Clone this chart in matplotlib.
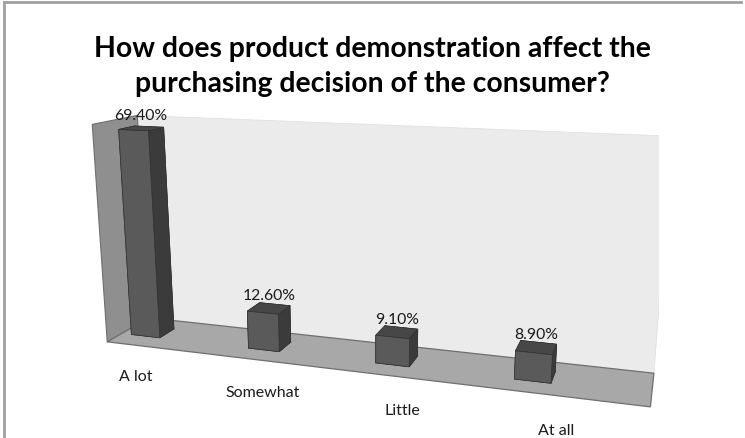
import matplotlib
matplotlib.use("Agg")
import matplotlib.pyplot as plt
import numpy as np
from mpl_toolkits.mplot3d.art3d import Poly3DCollection
from matplotlib.lines import Line2D

categories = ["A lot", "Somewhat", "Little", "At all"]
values = [69.4, 12.6, 9.1, 8.9]
value_labels = ["69.40%", "12.60%", "9.10%", "8.90%"]
title = "How does product demonstration affect the\npurchasing decision of the consumer?"

Z_MAX = 72.0
DEPTH = 1.0
BAR_W = 0.25
BAR_D = 0.36
BAR_OFFSET = 0.22   # bar centre within each category slot

fig = plt.figure(figsize=(7.45, 4.39), dpi=100)
fig.patch.set_facecolor("white")

ax = fig.add_axes([-0.1645, -0.2615, 1.295, 1.36], projection="3d")
ax.set_proj_type("persp", focal_length=0.3)
ax.view_init(elev=14, azim=-72)
ax.computed_zorder = False
ax.set_axis_off()
ax.set_xticks([]); ax.set_yticks([]); ax.set_zticks([])

n = len(categories)
ax.set_xlim(0, n)
ax.set_ylim(0, DEPTH)
ax.set_zlim(0, Z_MAX)
ax.set_box_aspect((3.9, 0.6, 1.62))

# back wall
back = [[(0, DEPTH, 0), (n, DEPTH, 0), (n, DEPTH, Z_MAX), (0, DEPTH, Z_MAX)]]
ax.add_collection3d(Poly3DCollection(back, facecolors="#ebebeb", edgecolors="#e0e0e0", linewidths=0.6))
# side wall
side = [[(0, 0, 0), (0, DEPTH, 0), (0, DEPTH, Z_MAX), (0, 0, Z_MAX)]]
ax.add_collection3d(Poly3DCollection(side, facecolors="#8f8f8f", edgecolors="#6f6f6f", linewidths=0.8))
# floor
floor = [[(0, 0, 0), (n, 0, 0), (n, DEPTH, 0), (0, DEPTH, 0)]]
ax.add_collection3d(Poly3DCollection(floor, facecolors="#a8a8a8", edgecolors="#6f6f6f", linewidths=0.9))

# bars: faces ordered bottom, top, front, back, left, right
face_cols = ["#3d3d3d", "#474747", "#5a5a5a", "#3d3d3d", "#5a5a5a", "#3b3b3b"]
centers = np.arange(n) + BAR_OFFSET
for i in range(n):
    ax.bar3d(centers[i] - BAR_W / 2, DEPTH / 2 - BAR_D / 2, 0, BAR_W, BAR_D, values[i],
             color=face_cols, shade=False, edgecolor="#333333", linewidth=0.5)

font = "Lato"
for i in range(n):
    ax.text(centers[i], DEPTH / 2, values[i] + 2.0, value_labels[i], ha="center", va="bottom",
            fontsize=11.3, family=font, color="#1a1a1a")
    ax.text(i + 0.45, -0.55, -2, categories[i], ha="center", va="top",
            fontsize=11.5, family=font, color="#1a1a1a")

fig.text(0.5, 0.917, title, ha="center", va="top", fontsize=20.4, fontweight="bold",
         family=font, linespacing=1.42)

# chart frame
fig.add_artist(Line2D([0.006, 0.006], [0, 0.994], color="#a0a0a0", lw=2, transform=fig.transFigure))
fig.add_artist(Line2D([0.006, 0.995], [0.994, 0.994], color="#a0a0a0", lw=2, transform=fig.transFigure))

fig.savefig("out.png", dpi=100)
